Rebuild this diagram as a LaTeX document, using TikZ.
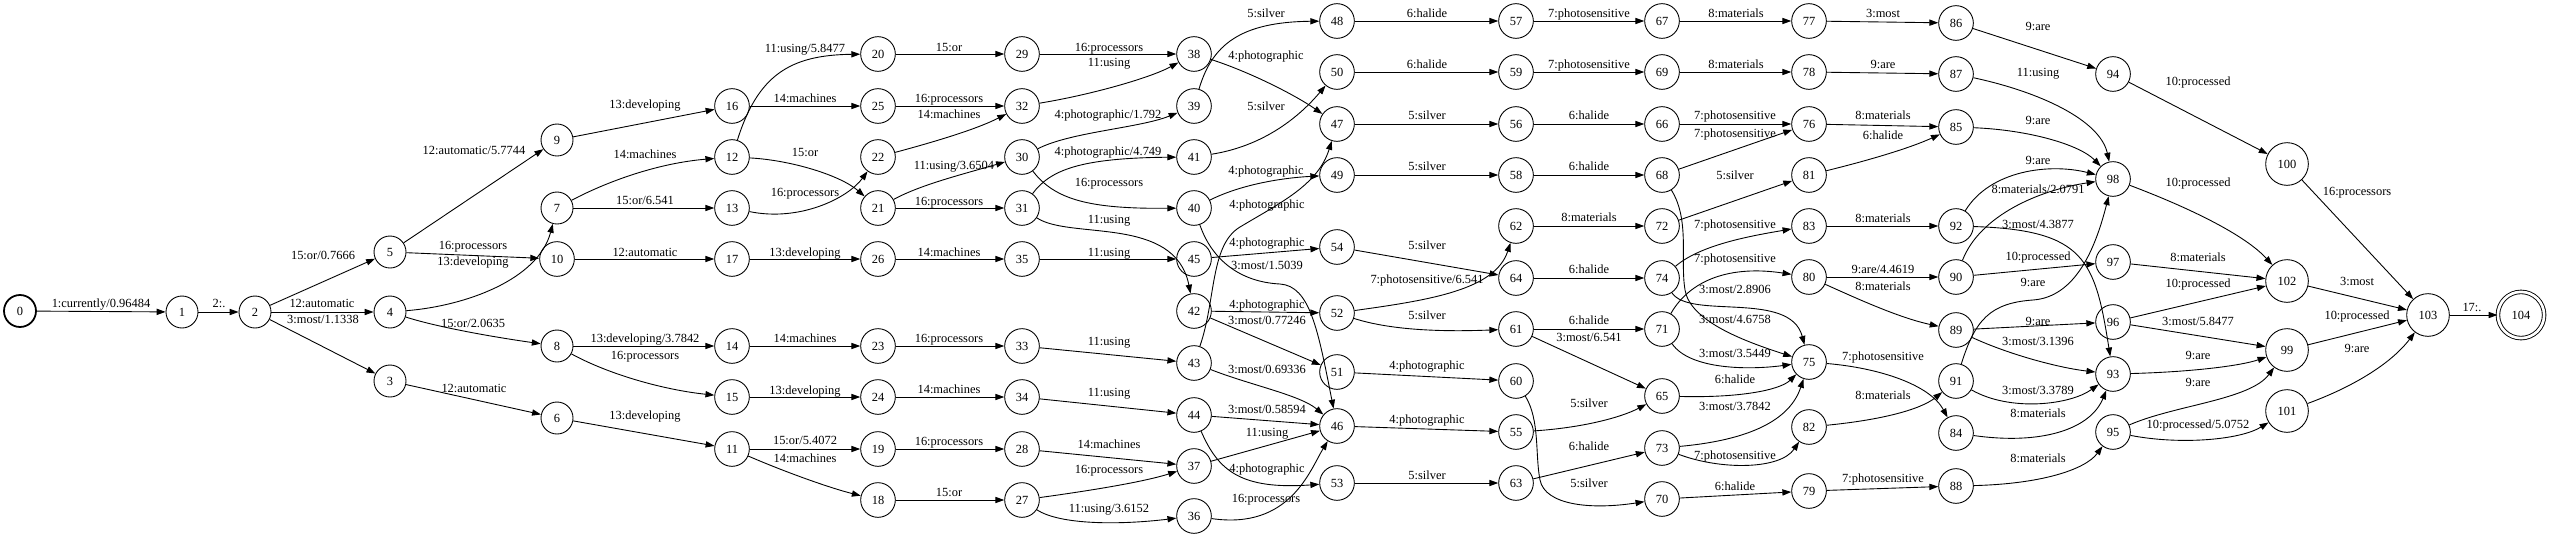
\documentclass[tikz,border=0pt]{standalone}
\usepackage{fontspec}
\setmainfont{Liberation Serif}
\usetikzlibrary{arrows.meta}
\newcommand\stfont{\fontsize{14}{16}\selectfont}
\tikzset{
  st/.style={circle, draw, line width=1pt, minimum size=39pt, inner sep=0pt, font=\stfont},
  st1/.style={st, minimum size=36pt},
  st3/.style={st, minimum size=48pt},
  fin/.style={st, minimum size=52pt, double, double distance=3pt},
  tr/.style={line width=1pt, -{Triangle[length=10pt, width=7pt]}},
  lbl/.style={anchor=mid, inner sep=0pt, font=\stfont}
}

\begin{document}
\begin{tikzpicture}[x=1.125pt, y=-1.125pt]
%%%%% START %%%%%
\useasboundingbox (0,0) rectangle (2550,538);

% states
\node[st1, line width=2pt] (n0) at (20,311) {0};
\node[st1] (n1) at (182,312) {1};
\node[st1] (n2) at (255,312) {2};
\node[st1] (n5) at (390,252) {5};
\node[st1] (n4) at (390,312) {4};
\node[st1] (n3) at (390,381) {3};
\node[st1] (n9) at (557,140) {9};
\node[st1] (n7) at (557,208) {7};
\node[st] (n10) at (557,259) {10};
\node[st1] (n8) at (557,346) {8};
\node[st1] (n6) at (557,418) {6};
\node[st] (n16) at (732,106) {16};
\node[st] (n12) at (732,157) {12};
\node[st] (n13) at (732,208) {13};
\node[st] (n17) at (732,259) {17};
\node[st] (n14) at (732,346) {14};
\node[st] (n15) at (732,397) {15};
\node[st] (n11) at (732,449) {11};
\node[st] (n20) at (878,54) {20};
\node[st] (n25) at (878,106) {25};
\node[st] (n22) at (878,157) {22};
\node[st] (n21) at (878,208) {21};
\node[st] (n26) at (878,259) {26};
\node[st] (n23) at (878,346) {23};
\node[st] (n24) at (878,397) {24};
\node[st] (n19) at (878,449) {19};
\node[st] (n18) at (878,500) {18};
\node[st] (n29) at (1022,54) {29};
\node[st] (n32) at (1022,106) {32};
\node[st] (n30) at (1022,157) {30};
\node[st] (n31) at (1022,208) {31};
\node[st] (n35) at (1022,259) {35};
\node[st] (n33) at (1022,346) {33};
\node[st] (n34) at (1022,397) {34};
\node[st] (n28) at (1022,449) {28};
\node[st] (n27) at (1022,500) {27};
\node[st] (n38) at (1194,54) {38};
\node[st] (n39) at (1194,106) {39};
\node[st] (n41) at (1194,157) {41};
\node[st] (n40) at (1194,208) {40};
\node[st] (n45) at (1194,259) {45};
\node[st] (n42) at (1194,311) {42};
\node[st] (n43) at (1194,363) {43};
\node[st] (n44) at (1194,415) {44};
\node[st] (n37) at (1194,466) {37};
\node[st] (n36) at (1194,516) {36};
\node[st] (n48) at (1337,21) {48};
\node[st] (n50) at (1337,72) {50};
\node[st] (n47) at (1337,124) {47};
\node[st] (n49) at (1337,175) {49};
\node[st] (n54) at (1337,247) {54};
\node[st] (n52) at (1337,313) {52};
\node[st] (n51) at (1337,372) {51};
\node[st] (n46) at (1337,426) {46};
\node[st] (n53) at (1337,483) {53};
\node[st] (n57) at (1516,21) {57};
\node[st] (n59) at (1516,72) {59};
\node[st] (n56) at (1516,124) {56};
\node[st] (n58) at (1516,175) {58};
\node[st] (n62) at (1516,226) {62};
\node[st] (n64) at (1516,278) {64};
\node[st] (n61) at (1516,329) {61};
\node[st] (n60) at (1516,381) {60};
\node[st] (n55) at (1516,432) {55};
\node[st] (n63) at (1516,483) {63};
\node[st] (n67) at (1662,21) {67};
\node[st] (n69) at (1662,72) {69};
\node[st] (n66) at (1662,124) {66};
\node[st] (n68) at (1662,175) {68};
\node[st] (n72) at (1662,226) {72};
\node[st] (n74) at (1662,278) {74};
\node[st] (n71) at (1662,329) {71};
\node[st] (n65) at (1662,396) {65};
\node[st] (n73) at (1662,448) {73};
\node[st] (n70) at (1662,499) {70};
\node[st] (n77) at (1809,21) {77};
\node[st] (n78) at (1809,72) {78};
\node[st] (n76) at (1809,124) {76};
\node[st] (n81) at (1809,175) {81};
\node[st] (n83) at (1809,226) {83};
\node[st] (n80) at (1809,277) {80};
\node[st] (n75) at (1809,362) {75};
\node[st] (n82) at (1809,427) {82};
\node[st] (n79) at (1809,491) {79};
\node[st] (n86) at (1956,23) {86};
\node[st] (n87) at (1956,74) {87};
\node[st] (n85) at (1956,127) {85};
\node[st] (n92) at (1956,226) {92};
\node[st] (n90) at (1956,277) {90};
\node[st] (n89) at (1956,330) {89};
\node[st] (n91) at (1956,381) {91};
\node[st] (n84) at (1956,433) {84};
\node[st] (n88) at (1956,486) {88};
\node[st] (n94) at (2113,74) {94};
\node[st] (n98) at (2113,179) {98};
\node[st] (n97) at (2113,262) {97};
\node[st] (n96) at (2113,322) {96};
\node[st] (n93) at (2113,374) {93};
\node[st] (n95) at (2113,432) {95};
\node[st3] (n100) at (2287,164) {100};
\node[st3] (n102) at (2287,281) {102};
\node[st3] (n99) at (2287,350) {99};
\node[st3] (n101) at (2287,411) {101};
\node[st3] (n103) at (2428,315) {103};
\node[fin] (n104) at (2521,315) {104};

% arcs
\draw[tr] (n0) -- (n1) node[lbl] at (101,305) {1:currently/0.96484};
\draw[tr] (n1) -- (n2) node[lbl] at (219,305) {2:.};
\draw[tr] (n2) -- (n5) node[lbl] at (323,257) {15:or/0.7666};
\draw[tr] (n2) -- (n4) node[lbl] at (322,305) {12:automatic};
\draw[tr] (n2) -- (n3) node[lbl] at (323,321) {3:most/1.1338};
\draw[tr] (n5) -- (n9) node[lbl] at (474,152) {12:automatic/5.7744};
\draw[tr] (n5) -- (n10) node[lbl] at (473,247) {16:processors};
\draw[tr] (n4) .. controls (465,306) and (538,280) .. (n7) node[lbl] at (473,263) {13:developing};
\draw[tr] (n4) .. controls (440,328) and (500,338) .. (n8) node[lbl] at (473,325) {15:or/2.0635};
\draw[tr] (n3) -- (n6) node[lbl] at (474,390) {12:automatic};

\draw[tr] (n9) -- (n16) node[lbl] at (645,106) {13:developing};
\draw[tr] (n7) .. controls (610,180) and (660,163) .. (n12) node[lbl] at (645,156) {14:machines};
\draw[tr] (n7) -- (n13) node[lbl] at (645,202) {15:or/6.541};
\draw[tr] (n10) -- (n17) node[lbl] at (645,254) {12:automatic};
\draw[tr] (n8) -- (n14) node[lbl] at (645,340) {13:developing/3.7842};
\draw[tr] (n8) .. controls (610,375) and (665,390) .. (n15) node[lbl] at (645,357) {16:processors};
\draw[tr] (n6) -- (n11) node[lbl] at (645,417) {13:developing};

\draw[tr] (n12) .. controls (758,75) and (790,55) .. (n20) node[lbl] at (805,50) {11:using/5.8477};
\draw[tr] (n16) -- (n25) node[lbl] at (805,100) {14:machines};
\draw[tr] (n12) .. controls (790,160) and (840,175) .. (n21) node[lbl] at (805,154) {15:or};
\draw[tr] (n13) .. controls (800,222) and (848,198) .. (n22) node[lbl] at (805,194) {16:processors};
\draw[tr] (n17) -- (n26) node[lbl] at (805,254) {13:developing};
\draw[tr] (n14) -- (n23) node[lbl] at (805,340) {14:machines};
\draw[tr] (n15) -- (n24) node[lbl] at (805,392) {13:developing};
\draw[tr] (n11) -- (n19) node[lbl] at (805,442) {15:or/5.4072};
\draw[tr] (n11) .. controls (785,472) and (830,488) .. (n18) node[lbl] at (805,460) {14:machines};

\draw[tr] (n20) -- (n29) node[lbl] at (949,49) {15:or};
\draw[tr] (n25) -- (n32) node[lbl] at (949,100) {16:processors};
\draw[tr] (n22) .. controls (930,143) and (975,130) .. (n32) node[lbl] at (949,116) {14:machines};
\draw[tr] (n21) .. controls (920,185) and (960,175) .. (n30) node[lbl] at (954,167) {11:using/3.6504};
\draw[tr] (n21) -- (n31) node[lbl] at (949,203) {16:processors};
\draw[tr] (n26) -- (n35) node[lbl] at (949,254) {14:machines};
\draw[tr] (n23) -- (n33) node[lbl] at (949,340) {16:processors};
\draw[tr] (n24) -- (n34) node[lbl] at (949,391) {14:machines};
\draw[tr] (n19) -- (n28) node[lbl] at (949,443) {16:processors};
\draw[tr] (n18) -- (n27) node[lbl] at (949,494) {15:or};

\draw[tr] (n29) -- (n38) node[lbl] at (1109,49) {16:processors};
\draw[tr] (n32) .. controls (1090,95) and (1150,78) .. (n38) node[lbl] at (1109,64) {11:using};
\draw[tr] (n30) .. controls (1070,132) and (1140,128) .. (n39) node[lbl] at (1108,116) {4:photographic/1.792};
\draw[tr] (n31) .. controls (1050,170) and (1080,158) .. (n41) node[lbl] at (1108,153) {4:photographic/4.749};
\draw[tr] (n30) .. controls (1055,200) and (1090,209) .. (n40) node[lbl] at (1109,184) {16:processors};
\draw[tr] (n31) .. controls (1070,240) and (1175,215) .. (n42) node[lbl] at (1109,221) {11:using};
\draw[tr] (n35) -- (n45) node[lbl] at (1109,254) {11:using};
\draw[tr] (n33) -- (n43) node[lbl] at (1109,343) {11:using};
\draw[tr] (n34) -- (n44) node[lbl] at (1109,394) {11:using};
\draw[tr] (n28) -- (n37) node[lbl] at (1109,446) {14:machines};
\draw[tr] (n27) .. controls (1080,492) and (1140,483) .. (n37) node[lbl] at (1109,471) {16:processors};
\draw[tr] (n27) .. controls (1060,525) and (1120,525) .. (n36) node[lbl] at (1109,510) {11:using/3.6152};

\draw[tr] (n39) .. controls (1212,45) and (1240,22) .. (n48) node[lbl] at (1266,15) {5:silver};
\draw[tr] (n38) .. controls (1250,72) and (1295,95) .. (n47) node[lbl] at (1266,57) {4:photographic};
\draw[tr] (n41) .. controls (1270,145) and (1305,110) .. (n50) node[lbl] at (1266,108) {5:silver};
\draw[tr] (n40) .. controls (1240,185) and (1280,178) .. (n49) node[lbl] at (1266,172) {4:photographic};
\draw[tr] (n43) .. controls (1216,300) and (1210,245) .. (1240,227) .. controls (1280,203) and (1318,185) .. (n47) node[lbl] at (1267,206) {4:photographic};
\draw[tr] (n45) -- (n54) node[lbl] at (1267,244) {4:photographic};
\draw[tr] (n40) .. controls (1212,260) and (1240,282) .. (1280,284) .. controls (1310,286) and (1318,330) .. (n46) node[lbl] at (1267,267) {3:most/1.5039};
\draw[tr] (n42) -- (n52) node[lbl] at (1267,306) {4:photographic};
\draw[tr] (n42) -- (n51) node[lbl] at (1267,322) {3:most/0.77246};
\draw[tr] (n43) .. controls (1250,385) and (1300,395) .. (n46) node[lbl] at (1267,371) {3:most/0.69336};
\draw[tr] (n44) -- (n46) node[lbl] at (1267,411) {3:most/0.58594};
\draw[tr] (n37) -- (n46) node[lbl] at (1267,434) {11:using};
\draw[tr] (n44) .. controls (1218,470) and (1240,490) .. (n53) node[lbl] at (1267,470) {4:photographic};
\draw[tr] (n36) .. controls (1290,530) and (1310,470) .. (n46) node[lbl] at (1266,500) {16:processors};

\draw[tr] (n48) -- (n57) node[lbl] at (1427,15) {6:halide};
\draw[tr] (n50) -- (n59) node[lbl] at (1427,66) {6:halide};
\draw[tr] (n47) -- (n56) node[lbl] at (1427,117) {5:silver};
\draw[tr] (n49) -- (n58) node[lbl] at (1427,168) {5:silver};
\draw[tr] (n54) -- (n64) node[lbl] at (1427,247) {5:silver};
\draw[tr] (n52) .. controls (1430,300) and (1495,290) .. (n62) node[lbl] at (1427,281) {7:photosensitive/6.541};
\draw[tr] (n52) .. controls (1390,330) and (1440,332) .. (n61) node[lbl] at (1427,317) {5:silver};
\draw[tr] (n51) -- (n60) node[lbl] at (1427,367) {4:photographic};
\draw[tr] (n46) -- (n55) node[lbl] at (1427,421) {4:photographic};
\draw[tr] (n53) -- (n63) node[lbl] at (1427,477) {5:silver};

\draw[tr] (n57) -- (n67) node[lbl] at (1589,15) {7:photosensitive};
\draw[tr] (n59) -- (n69) node[lbl] at (1589,66) {7:photosensitive};
\draw[tr] (n56) -- (n66) node[lbl] at (1589,117) {6:halide};
\draw[tr] (n58) -- (n68) node[lbl] at (1589,168) {6:halide};
\draw[tr] (n62) -- (n72) node[lbl] at (1589,219) {8:materials};
\draw[tr] (n64) -- (n74) node[lbl] at (1589,271) {6:halide};
\draw[tr] (n61) -- (n71) node[lbl] at (1589,322) {6:halide};
\draw[tr] (n61) -- (n65) node[lbl] at (1589,339) {3:most/6.541};
\draw[tr] (n55) .. controls (1580,428) and (1620,418) .. (n65) node[lbl] at (1589,405) {5:silver};
\draw[tr] (n63) -- (n73) node[lbl] at (1589,448) {6:halide};
\draw[tr] (n60) .. controls (1540,420) and (1535,455) .. (1540,480) .. controls (1545,505) and (1590,510) .. (n70) node[lbl] at (1589,485) {5:silver};

\draw[tr] (n67) -- (n77) node[lbl] at (1736,15) {8:materials};
\draw[tr] (n69) -- (n78) node[lbl] at (1736,66) {8:materials};
\draw[tr] (n66) -- (n76) node[lbl] at (1735,117) {7:photosensitive};
\draw[tr] (n68) -- (n76) node[lbl] at (1735,135) {7:photosensitive};
\draw[tr] (n72) -- (n81) node[lbl] at (1735,177) {5:silver};
\draw[tr] (n74) .. controls (1700,245) and (1750,236) .. (n83) node[lbl] at (1735,226) {7:photosensitive};
\draw[tr] (n71) .. controls (1690,280) and (1730,265) .. (n80) node[lbl] at (1735,260) {7:photosensitive};
\draw[tr] (n74) .. controls (1690,320) and (1790,290) .. (n75) node[lbl] at (1735,291) {3:most/2.8906};
\draw[tr] (n68) .. controls (1690,220) and (1680,260) .. (1685,290) .. controls (1690,320) and (1740,340) .. (n75) node[lbl] at (1735,321) {3:most/4.6758};
\draw[tr] (n71) .. controls (1690,370) and (1750,370) .. (n75) node[lbl] at (1735,355) {3:most/3.5449};
\draw[tr] (n65) .. controls (1740,398) and (1780,390) .. (n75) node[lbl] at (1735,381) {6:halide};
\draw[tr] (n73) .. controls (1750,440) and (1790,420) .. (n75) node[lbl] at (1735,408) {3:most/3.7842};
\draw[tr] (n73) .. controls (1720,470) and (1780,470) .. (n82) node[lbl] at (1735,457) {7:photosensitive};
\draw[tr] (n70) -- (n79) node[lbl] at (1735,488) {6:halide};

\draw[tr] (n77) -- (n86) node[lbl] at (1883,15) {3:most};
\draw[tr] (n78) -- (n87) node[lbl] at (1883,66) {9:are};
\draw[tr] (n76) -- (n85) node[lbl] at (1883,117) {8:materials};
\draw[tr] (n81) .. controls (1870,160) and (1910,148) .. (n85) node[lbl] at (1883,137) {6:halide};
\draw[tr] (n83) -- (n92) node[lbl] at (1883,220) {8:materials};
\draw[tr] (n80) -- (n90) node[lbl] at (1883,271) {9:are/4.4619};
\draw[tr] (n80) .. controls (1860,300) and (1900,318) .. (n89) node[lbl] at (1883,288) {8:materials};
\draw[tr] (n75) .. controls (1880,368) and (1930,385) .. (n84) node[lbl] at (1883,358) {7:photosensitive};
\draw[tr] (n82) .. controls (1880,420) and (1920,410) .. (n91) node[lbl] at (1883,397) {8:materials};
\draw[tr] (n79) -- (n88) node[lbl] at (1883,480) {7:photosensitive};

\draw[tr] (n86) -- (n94) node[lbl] at (2038,28) {9:are};
\draw[tr] (n87) .. controls (2040,92) and (2100,120) .. (n98) node[lbl] at (2038,74) {11:using};
\draw[tr] (n85) .. controls (2030,130) and (2080,145) .. (n98) node[lbl] at (2038,122) {9:are};
\draw[tr] (n92) .. controls (1990,170) and (2050,163) .. (n98) node[lbl] at (2038,162) {9:are};
\draw[tr] (n90) .. controls (1980,215) and (2040,190) .. (n98) node[lbl] at (2038,191) {8:materials/2.0791};
\draw[tr] (n92) .. controls (2085,230) and (2095,260) .. (n93) node[lbl] at (2038,226) {3:most/4.3877};
\draw[tr] (n90) -- (n97) node[lbl] at (2038,258) {10:processed};
\draw[tr] (n91) .. controls (1975,320) and (1990,303) .. (2033,300) .. controls (2075,297) and (2095,250) .. (n98) node[lbl] at (2033,284) {9:are};
\draw[tr] (n89) -- (n96) node[lbl] at (2038,323) {9:are};
\draw[tr] (n89) .. controls (2010,355) and (2060,368) .. (n93) node[lbl] at (2038,343) {3:most/3.1396};
\draw[tr] (n91) .. controls (2010,412) and (2070,405) .. (n93) node[lbl] at (2038,392) {3:most/3.3789};
\draw[tr] (n84) .. controls (2040,445) and (2090,430) .. (n93) node[lbl] at (2038,415) {8:materials};
\draw[tr] (n88) .. controls (2040,484) and (2085,470) .. (n95) node[lbl] at (2038,460) {8:materials};

\draw[tr] (n94) -- (n100) node[lbl] at (2198,83) {10:processed};
\draw[tr] (n98) .. controls (2190,208) and (2245,235) .. (n102) node[lbl] at (2198,184) {10:processed};
\draw[tr] (n97) -- (n102) node[lbl] at (2198,259) {8:materials};
\draw[tr] (n96) -- (n102) node[lbl] at (2198,285) {10:processed};
\draw[tr] (n96) -- (n99) node[lbl] at (2198,323) {3:most/5.8477};
\draw[tr] (n93) .. controls (2190,372) and (2240,366) .. (n99) node[lbl] at (2198,357) {9:are};
\draw[tr] (n95) .. controls (2175,405) and (2250,400) .. (n99) node[lbl] at (2198,384) {9:are};
\draw[tr] (n95) .. controls (2180,445) and (2240,440) .. (n101) node[lbl] at (2198,426) {10:processed/5.0752};

\draw[tr] (n100) -- (n103) node[lbl] at (2357,193) {16:processors};
\draw[tr] (n102) -- (n103) node[lbl] at (2357,283) {3:most};
\draw[tr] (n99) -- (n103) node[lbl] at (2357,317) {10:processed};
\draw[tr] (n101) .. controls (2350,388) and (2390,365) .. (n103) node[lbl] at (2357,350) {9:are};
\draw[tr] (n103) -- (n104) node[lbl] at (2472,309) {17:.};
%%%%% END %%%%%
\end{tikzpicture}
\end{document}
